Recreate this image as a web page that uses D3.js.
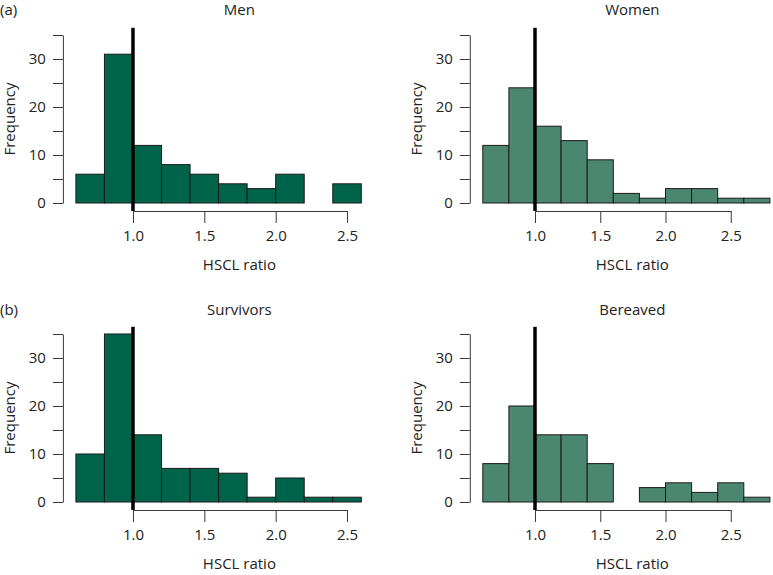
<!DOCTYPE html>
<html>
<head>
<meta charset="utf-8">
<script src="https://cdn.jsdelivr.net/npm/d3@7"></script>
<style>
  body { margin: 0; background: #fff; }
  svg { display: block; }
  text { font-family: "Open Sans", "Noto Sans", sans-serif; fill: #222; }
</style>
</head>
<body>
<svg width="773" height="575"></svg>
<script>
'use strict';

// histogram counts, bins of width 0.2 starting at 0.6
var binStart = 0.6;
var binWidth = 0.2;
var menCounts = [6, 31, 12, 8, 6, 4, 3, 6, 0, 4];
var womenCounts = [12, 24, 16, 13, 9, 2, 1, 3, 3, 1, 1];
var survivorCounts = [10, 35, 14, 7, 7, 6, 1, 5, 1, 1];
var bereavedCounts = [8, 20, 14, 14, 8, 0, 3, 4, 2, 4, 1];

var xTicks = [1.0, 1.5, 2.0, 2.5];
var yTicks = [0, 5, 10, 15, 20, 25, 30, 35];
var yLabelled = [0, 10, 20, 30];
var refValue = 1.0;

var darkGreen = '#00644a';
var lightGreen = '#4b8671';

var panels = [
  { title: 'Men', tag: '(a)', counts: menCounts, fill: darkGreen,
    x0: 75.9, unit: 142.7, y0: 203, ty: 15 },
  { title: 'Women', tag: null, counts: womenCounts, fill: lightGreen,
    x0: 482.8, unit: 130.5, y0: 203, ty: 15 },
  { title: 'Survivors', tag: '(b)', counts: survivorCounts, fill: darkGreen,
    x0: 75.9, unit: 142.7, y0: 502, ty: 315 },
  { title: 'Bereaved', tag: null, counts: bereavedCounts, fill: lightGreen,
    x0: 482.8, unit: 130.5, y0: 502, ty: 315 }
];

var svg = d3.select('svg');

panels.forEach(function (p) {
  var bins = p.counts.map(function (c, i) {
    return { lo: binStart + i * binWidth, hi: binStart + (i + 1) * binWidth, n: c };
  });
  var xMax = binStart + p.counts.length * binWidth;

  var x = d3.scaleLinear()
    .domain([binStart, xMax])
    .range([p.x0, p.x0 + (xMax - binStart) * p.unit]);
  var y = d3.scaleLinear()
    .domain([0, 35])
    .range([p.y0, p.y0 - 35 * 4.8]);

  var g = svg.append('g');

  // bars
  g.append('g')
    .selectAll('rect')
    .data(bins.filter(function (d) { return d.n > 0; }))
    .enter()
    .append('rect')
    .attr('x', function (d) { return x(d.lo); })
    .attr('y', function (d) { return y(d.n); })
    .attr('width', function (d) { return x(d.hi) - x(d.lo); })
    .attr('height', function (d) { return y(0) - y(d.n); })
    .attr('fill', p.fill)
    .attr('stroke', '#1b1b1b')
    .attr('stroke-width', 1);

  // y axis
  var yAxis = d3.axisLeft(y)
    .tickValues(yTicks)
    .tickSize(10)
    .tickSizeOuter(0)
    .tickPadding(7)
    .tickFormat(function (d) { return yLabelled.indexOf(d) >= 0 ? d : ''; });
  var ya = g.append('g')
    .attr('transform', 'translate(' + (x(binStart) - 13) + ',0)')
    .call(yAxis);

  // x axis, only spanning the tick range
  var xa = d3.scaleLinear()
    .domain([xTicks[0], xTicks[xTicks.length - 1]])
    .range([x(xTicks[0]), x(xTicks[xTicks.length - 1])]);
  var xAxis = d3.axisBottom(xa)
    .tickValues(xTicks)
    .tickSize(12)
    .tickSizeOuter(0)
    .tickPadding(7)
    .tickFormat(d3.format('.1f'));
  var xg = g.append('g')
    .attr('transform', 'translate(0,' + (y(0) + 8) + ')')
    .call(xAxis);

  [ya, xg].forEach(function (a) {
    a.selectAll('path, line').attr('stroke', '#3a3a3a');
    a.selectAll('text').style('font-size', '15px').attr('fill', '#222');
  });

  // reference line at ratio 1.0
  g.append('line')
    .attr('x1', x(refValue)).attr('x2', x(refValue))
    .attr('y1', y(36.5)).attr('y2', y(0) + 8)
    .attr('stroke', '#000')
    .attr('stroke-width', 3.5);

  // titles and labels
  var mid = x(binStart) + 163.5 * (p.unit / 142.7);
  g.append('text')
    .attr('x', mid)
    .attr('y', p.ty)
    .attr('text-anchor', 'middle')
    .style('font-size', '15px')
    .text(p.title);

  g.append('text')
    .attr('x', mid)
    .attr('y', y(0) + 67)
    .attr('text-anchor', 'middle')
    .style('font-size', '15px')
    .text('HSCL ratio');

  g.append('text')
    .attr('transform', 'translate(' + (x(binStart) - 61) + ',' + y(17.5) + ') rotate(-90)')
    .attr('text-anchor', 'middle')
    .style('font-size', '15px')
    .text('Frequency');

  if (p.tag) {
    g.append('text')
      .attr('x', 0)
      .attr('y', p.ty)
      .style('font-size', '15px')
      .text(p.tag);
  }
});
</script>
</body>
</html>
